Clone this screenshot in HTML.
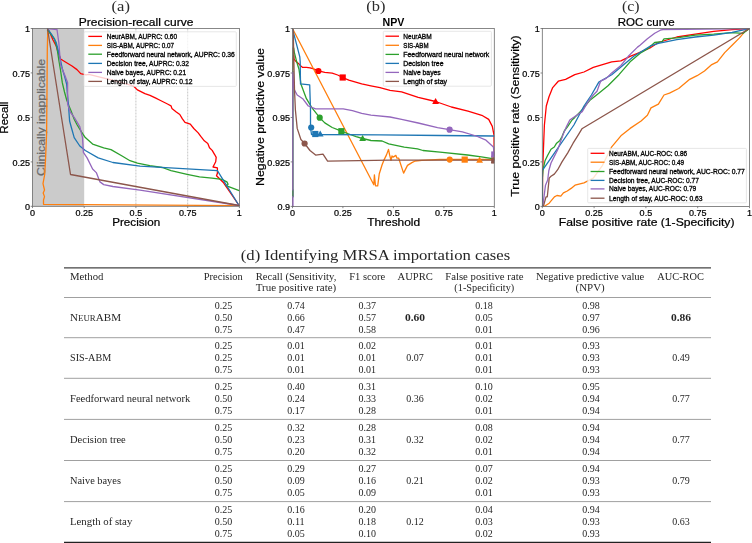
<!DOCTYPE html><html><head><meta charset="utf-8"><style>html,body{margin:0;padding:0;background:#fff;overflow:hidden}svg{display:block;filter:blur(0.35px)}</style></head><body><svg width="752" height="543" viewBox="0 0 752 543"><defs><clipPath id="ca"><rect x="32.5" y="28.5" width="206.9" height="177.8"/></clipPath><clipPath id="cb"><rect x="292.5" y="28.5" width="201.8" height="177.9"/></clipPath><clipPath id="cc"><rect x="542.3" y="28.5" width="207.2" height="177.9"/></clipPath></defs>
<rect x="32.5" y="28.5" width="51.7" height="177.8" fill="#cbcbcb"/>
<line x1="135.9" y1="28.5" x2="135.9" y2="206.3" stroke="#b8b8b8" stroke-width="0.8" stroke-dasharray="2,1"/>
<line x1="187.7" y1="28.5" x2="187.7" y2="206.3" stroke="#b8b8b8" stroke-width="0.8" stroke-dasharray="2,1"/>
<text transform="translate(44.7,117.4) rotate(-90)" x="0" y="0" font-size="10.9" text-anchor="middle" fill="#6a6a6a" font-family='"Liberation Sans", sans-serif' font-weight="normal" textLength="117.0" lengthAdjust="spacingAndGlyphs" stroke="#6a6a6a" stroke-width="0.22">Clinically inapplicable</text>
<g clip-path="url(#ca)">
<polyline points="47.5,28.5 50.0,33.0 53.0,40.0 56.2,46.0 58.0,52.0 60.6,59.0 65.0,61.7 72.0,66.0 77.0,69.6 80.7,73.6 86.0,74.8 88.8,74.4 102.0,77.7 123.9,83.1 133.7,86.2 137.4,89.9 144.9,93.7 150.0,95.3 155.3,97.9 160.5,100.5 167.5,104.0 171.0,105.8 171.9,108.4 176.3,111.9 179.8,114.5 182.4,118.9 185.0,122.4 190.3,124.2 193.8,128.5 198.2,132.9 200.8,136.4 204.3,140.8 207.8,143.4 209.5,147.8 212.2,150.4 214.8,154.8 216.2,157.4 215.7,161.8 213.9,165.3 213.0,167.0 217.4,167.9 217.4,173.2 216.5,175.8 223.6,182.8 239.1,205.5" fill="none" stroke="#ff0000" stroke-width="1.3" stroke-linejoin="round" stroke-linecap="round" />
<polyline points="47.8,28.8 47.3,50.0 47.0,90.0 46.6,134.0 45.5,160.0 44.7,174.5 43.0,183.7 44.5,190.0 43.2,193.0 44.5,196.6 43.5,200.0 43.5,204.3 239.0,205.6" fill="none" stroke="#ff7f0e" stroke-width="1.3" stroke-linejoin="round" stroke-linecap="round" />
<polyline points="47.5,30.0 50.0,33.0 54.5,39.0 57.0,48.0 58.8,60.0 60.5,70.0 62.3,82.7 64.5,92.0 66.7,100.0 69.0,106.0 71.0,110.7 74.2,119.2 77.2,125.0 81.6,132.1 85.3,137.6 92.6,144.1 103.7,147.8 111.0,149.6 122.1,156.0 130.0,160.7 137.4,163.2 149.8,165.7 162.3,167.5 171.0,170.7 187.1,174.4 199.5,176.9 212.0,178.1 221.9,179.4 226.9,181.9 228.1,184.3 226.0,185.6 239.2,190.6" fill="none" stroke="#2ca02c" stroke-width="1.3" stroke-linejoin="round" stroke-linecap="round" />
<polyline points="47.5,28.5 52.0,35.0 56.0,42.0 58.0,49.5 60.0,58.0 62.3,68.7 64.5,76.0 66.7,84.4 67.5,95.0 68.5,105.4 69.6,121.0 71.5,128.0 74.2,137.6 79.8,146.0 85.3,150.5 98.2,157.9 112.9,162.5 140.0,166.2 217.4,170.6 239.0,205.5" fill="none" stroke="#1f77b4" stroke-width="1.3" stroke-linejoin="round" stroke-linecap="round" />
<polyline points="47.5,28.5 57.0,29.5 58.8,42.5 60.6,65.0 65.0,75.7 67.6,82.7 67.6,103.7 70.2,112.0 74.2,117.4 79.8,126.6 82.5,137.6 83.4,152.4 87.1,157.9 92.6,169.0 96.3,172.6 100.0,181.9 103.7,184.6 112.9,186.5 140.0,190.2 239.0,205.5" fill="none" stroke="#9467bd" stroke-width="1.3" stroke-linejoin="round" stroke-linecap="round" />
<polyline points="47.5,28.5 70.5,174.5 239.0,205.5" fill="none" stroke="#8c564b" stroke-width="1.3" stroke-linejoin="round" stroke-linecap="round" />
</g>
<rect x="32.5" y="28.5" width="206.9" height="177.8" fill="none" stroke="#6a6a6a" stroke-width="0.8"/>
<rect x="84" y="31.8" width="152.3" height="54.60000000000001" fill="#ffffff" fill-opacity="0.8" stroke="#dcdcdc" stroke-width="0.7" rx="1"/>
<line x1="88.3" y1="36.4" x2="102" y2="36.4" stroke="#ff0000" stroke-width="1.3"/>
<text x="106.8" y="38.8" font-size="6.8" text-anchor="start" fill="#000" font-family='"Liberation Sans", sans-serif' font-weight="normal" textLength="70.28" lengthAdjust="spacingAndGlyphs" stroke="#000" stroke-width="0.3">NeurABM, AUPRC: 0.60</text>
<line x1="88.3" y1="45.4" x2="102" y2="45.4" stroke="#ff7f0e" stroke-width="1.3"/>
<text x="106.8" y="47.8" font-size="6.8" text-anchor="start" fill="#000" font-family='"Liberation Sans", sans-serif' font-weight="normal" textLength="67.2" lengthAdjust="spacingAndGlyphs" stroke="#000" stroke-width="0.3">SIS-ABM, AUPRC: 0.07</text>
<line x1="88.3" y1="54.2" x2="102" y2="54.2" stroke="#2ca02c" stroke-width="1.3"/>
<text x="106.8" y="56.6" font-size="6.8" text-anchor="start" fill="#000" font-family='"Liberation Sans", sans-serif' font-weight="normal" textLength="127.99" lengthAdjust="spacingAndGlyphs" stroke="#000" stroke-width="0.3">Feedforward neural network, AUPRC: 0.36</text>
<line x1="88.3" y1="63.4" x2="102" y2="63.4" stroke="#1f77b4" stroke-width="1.3"/>
<text x="106.8" y="65.8" font-size="6.8" text-anchor="start" fill="#000" font-family='"Liberation Sans", sans-serif' font-weight="normal" textLength="82.15" lengthAdjust="spacingAndGlyphs" stroke="#000" stroke-width="0.3">Decision tree, AUPRC: 0.32</text>
<line x1="88.3" y1="72.4" x2="102" y2="72.4" stroke="#9467bd" stroke-width="1.3"/>
<text x="106.8" y="74.80000000000001" font-size="6.8" text-anchor="start" fill="#000" font-family='"Liberation Sans", sans-serif' font-weight="normal" textLength="79.42" lengthAdjust="spacingAndGlyphs" stroke="#000" stroke-width="0.3">Naive bayes, AUPRC: 0.21</text>
<line x1="88.3" y1="81.4" x2="102" y2="81.4" stroke="#8c564b" stroke-width="1.3"/>
<text x="106.8" y="83.80000000000001" font-size="6.8" text-anchor="start" fill="#000" font-family='"Liberation Sans", sans-serif' font-weight="normal" textLength="85.68" lengthAdjust="spacingAndGlyphs" stroke="#000" stroke-width="0.3">Length of stay, AUPRC: 0.12</text>
<line x1="32.5" y1="206.3" x2="32.5" y2="208.10000000000002" stroke="#6a6a6a" stroke-width="0.8"/>
<text x="32.5" y="215.9" font-size="8.6" text-anchor="middle" fill="#000" font-family='"Liberation Sans", sans-serif' font-weight="normal" textLength="5.03" lengthAdjust="spacingAndGlyphs" stroke="#000" stroke-width="0.22">0</text>
<line x1="30.7" y1="206.3" x2="32.5" y2="206.3" stroke="#6a6a6a" stroke-width="0.8"/>
<text x="30.0" y="209.9" font-size="8.6" text-anchor="end" fill="#000" font-family='"Liberation Sans", sans-serif' font-weight="normal" textLength="5.03" lengthAdjust="spacingAndGlyphs" stroke="#000" stroke-width="0.22">0</text>
<line x1="84.2" y1="206.3" x2="84.2" y2="208.10000000000002" stroke="#6a6a6a" stroke-width="0.8"/>
<text x="84.2" y="215.9" font-size="8.6" text-anchor="middle" fill="#000" font-family='"Liberation Sans", sans-serif' font-weight="normal" textLength="17.59" lengthAdjust="spacingAndGlyphs" stroke="#000" stroke-width="0.22">0.25</text>
<line x1="30.7" y1="161.9" x2="32.5" y2="161.9" stroke="#6a6a6a" stroke-width="0.8"/>
<text x="30.0" y="165.5" font-size="8.6" text-anchor="end" fill="#000" font-family='"Liberation Sans", sans-serif' font-weight="normal" textLength="17.59" lengthAdjust="spacingAndGlyphs" stroke="#000" stroke-width="0.22">0.25</text>
<line x1="135.9" y1="206.3" x2="135.9" y2="208.10000000000002" stroke="#6a6a6a" stroke-width="0.8"/>
<text x="135.9" y="215.9" font-size="8.6" text-anchor="middle" fill="#000" font-family='"Liberation Sans", sans-serif' font-weight="normal" textLength="12.56" lengthAdjust="spacingAndGlyphs" stroke="#000" stroke-width="0.22">0.5</text>
<line x1="30.7" y1="117.4" x2="32.5" y2="117.4" stroke="#6a6a6a" stroke-width="0.8"/>
<text x="30.0" y="121.0" font-size="8.6" text-anchor="end" fill="#000" font-family='"Liberation Sans", sans-serif' font-weight="normal" textLength="12.56" lengthAdjust="spacingAndGlyphs" stroke="#000" stroke-width="0.22">0.5</text>
<line x1="187.7" y1="206.3" x2="187.7" y2="208.10000000000002" stroke="#6a6a6a" stroke-width="0.8"/>
<text x="187.7" y="215.9" font-size="8.6" text-anchor="middle" fill="#000" font-family='"Liberation Sans", sans-serif' font-weight="normal" textLength="17.59" lengthAdjust="spacingAndGlyphs" stroke="#000" stroke-width="0.22">0.75</text>
<line x1="30.7" y1="72.9" x2="32.5" y2="72.9" stroke="#6a6a6a" stroke-width="0.8"/>
<text x="30.0" y="76.5" font-size="8.6" text-anchor="end" fill="#000" font-family='"Liberation Sans", sans-serif' font-weight="normal" textLength="17.59" lengthAdjust="spacingAndGlyphs" stroke="#000" stroke-width="0.22">0.75</text>
<line x1="239.4" y1="206.3" x2="239.4" y2="208.10000000000002" stroke="#6a6a6a" stroke-width="0.8"/>
<text x="239.4" y="215.9" font-size="8.6" text-anchor="middle" fill="#000" font-family='"Liberation Sans", sans-serif' font-weight="normal" textLength="5.03" lengthAdjust="spacingAndGlyphs" stroke="#000" stroke-width="0.22">1</text>
<line x1="30.7" y1="28.5" x2="32.5" y2="28.5" stroke="#6a6a6a" stroke-width="0.8"/>
<text x="30.0" y="32.1" font-size="8.6" text-anchor="end" fill="#000" font-family='"Liberation Sans", sans-serif' font-weight="normal" textLength="5.03" lengthAdjust="spacingAndGlyphs" stroke="#000" stroke-width="0.22">1</text>
<text x="136.2" y="226.2" font-size="10.75" text-anchor="middle" fill="#000" font-family='"Liberation Sans", sans-serif' font-weight="normal" textLength="47.97" lengthAdjust="spacingAndGlyphs" stroke="#000" stroke-width="0.22">Precision</text>
<text transform="translate(8.2,117.6) rotate(-90)" x="0" y="0" font-size="10.75" text-anchor="middle" fill="#000" font-family='"Liberation Sans", sans-serif' font-weight="normal" textLength="32.07" lengthAdjust="spacingAndGlyphs" stroke="#000" stroke-width="0.22">Recall</text>
<text x="136.15" y="25.9" font-size="10.75" text-anchor="middle" fill="#000" font-family='"Liberation Sans", sans-serif' font-weight="normal" textLength="114.65" lengthAdjust="spacingAndGlyphs" stroke="#000" stroke-width="0.22">Precision-recall curve</text>
<text x="120.8" y="11.3" font-size="14.4" text-anchor="middle" fill="#2a2a2a" font-family='"Liberation Serif", serif' font-weight="normal" textLength="18.4" lengthAdjust="spacingAndGlyphs" >(a)</text>
<g clip-path="url(#cb)">
<polyline points="292.8,70.0 293.2,58.0 293.7,55.4 294.0,59.1 296.3,61.8 299.0,64.1 300.9,66.0 302.7,67.4 306.4,67.4 310.1,67.8 312.9,68.7 318.4,70.8 324.8,72.4 332.2,73.2 337.7,75.0 342.7,77.5 348.8,80.2 361.7,83.9 370.9,85.8 380.0,87.6 390.0,90.4 401.6,91.8 418.2,97.3 435.6,101.5 451.4,107.0 468.0,111.1 481.8,115.3 488.7,119.4 492.3,126.4 494.0,135.0 494.2,160.0" fill="none" stroke="#ff0000" stroke-width="1.3" stroke-linejoin="round" stroke-linecap="round" />
<polyline points="292.6,28.7 373.8,184.7 374.4,174.8 375.5,185.8 377.7,185.8 379.3,173.7 382.1,164.8 383.8,160.4 386.5,154.9 388.5,149.4 389.6,154.9 391.0,160.4 392.0,156.0 393.1,157.1 395.9,155.4 397.0,158.2 398.7,158.2 403.6,173.1 407.5,165.4 411.9,162.6 415.2,161.0 421.9,160.4 440.0,159.5 494.3,159.5" fill="none" stroke="#ff7f0e" stroke-width="1.3" stroke-linejoin="round" stroke-linecap="round" />
<polyline points="292.8,197.0 292.8,48.0 293.7,48.0 294.4,52.6 296.7,61.8 299.0,69.2 300.9,83.9 306.4,98.7 312.0,107.9 319.7,117.7 324.8,122.9 332.2,127.5 341.4,131.2 348.8,134.0 356.1,136.7 362.6,138.5 371.0,140.5 382.1,141.0 388.7,143.8 404.2,147.2 417.5,148.8 423.0,150.5 440.0,152.1 467.6,155.0 481.4,156.8 492.4,158.6 494.3,159.0" fill="none" stroke="#2ca02c" stroke-width="1.3" stroke-linejoin="round" stroke-linecap="round" />
<polyline points="292.6,29.1 296.3,43.4 299.8,56.8 300.2,61.8 300.5,83.9 309.7,84.8 310.5,110.0 310.5,127.5 311.5,134.5 380.0,134.8 440.0,135.5 494.3,136.0" fill="none" stroke="#1f77b4" stroke-width="1.3" stroke-linejoin="round" stroke-linecap="round" />
<polyline points="292.7,206.4 292.7,72.0 293.3,80.0 294.5,90.0 297.2,95.0 302.7,98.7 308.3,106.0 315.6,108.8 334.0,108.8 343.2,108.8 352.4,110.6 361.7,113.4 370.9,115.2 390.0,117.0 401.6,119.4 418.2,123.0 437.5,127.7 449.4,129.7 462.4,131.9 476.2,136.0 486.0,140.2 493.4,147.0 494.3,155.0" fill="none" stroke="#9467bd" stroke-width="1.3" stroke-linejoin="round" stroke-linecap="round" />
<polyline points="293.2,29.6 294.5,90.0 295.4,110.0 297.2,128.4 300.9,139.5 304.6,143.5 310.0,150.5 315.6,155.1 323.0,154.2 327.6,161.2 390.0,160.2 494.3,160.2" fill="none" stroke="#8c564b" stroke-width="1.3" stroke-linejoin="round" stroke-linecap="round" />
<circle cx="318.4" cy="71" r="3.1" fill="#ff0000"/>
<rect x="339.59999999999997" y="74.4" width="6.2" height="6.2" fill="#ff0000"/>
<polygon points="435.6,98.1 439.0,104.05 432.20000000000005,104.05" fill="#ff0000"/>
<circle cx="449.7" cy="159.6" r="3.1" fill="#ff7f0e"/>
<rect x="461.59999999999997" y="156.5" width="6.2" height="6.2" fill="#ff7f0e"/>
<polygon points="479.6,156.79999999999998 483.0,162.75 476.20000000000005,162.75" fill="#ff7f0e"/>
<circle cx="319.7" cy="117.7" r="3.1" fill="#2ca02c"/>
<rect x="338.29999999999995" y="128.1" width="6.2" height="6.2" fill="#2ca02c"/>
<polygon points="362.6,135.1 366.0,141.05 359.20000000000005,141.05" fill="#2ca02c"/>
<circle cx="311.2" cy="127.5" r="3.1" fill="#1f77b4"/>
<rect x="312.2" y="130.9" width="6.2" height="6.2" fill="#1f77b4"/>
<polygon points="320.2,130.6 323.59999999999997,136.55 316.8,136.55" fill="#1f77b4"/>
<circle cx="449.6" cy="129.7" r="3.1" fill="#9467bd"/>
<rect x="491.2" y="151.4" width="6.2" height="6.2" fill="#9467bd"/>
<polygon points="494.3,151.1 497.7,157.05 490.90000000000003,157.05" fill="#9467bd"/>
<circle cx="304.6" cy="143.5" r="3.1" fill="#8c564b"/>
<rect x="491.2" y="157.4" width="6.2" height="6.2" fill="#8c564b"/>
<polygon points="494.3,157.1 497.7,163.05 490.90000000000003,163.05" fill="#8c564b"/>
</g>
<rect x="292.5" y="28.5" width="201.8" height="177.9" fill="none" stroke="#6a6a6a" stroke-width="0.8"/>
<line x1="292.7" y1="72" x2="292.7" y2="206" stroke="#9467bd" stroke-width="1.1" opacity="0.75"/>
<line x1="292.7" y1="190.5" x2="292.7" y2="196" stroke="#2ca02c" stroke-width="1.1" opacity="0.6"/>
<rect x="383.3" y="31.3" width="108.09999999999997" height="54.900000000000006" fill="#ffffff" fill-opacity="0.8" stroke="#dcdcdc" stroke-width="0.7" rx="1"/>
<line x1="385.5" y1="36.2" x2="399" y2="36.2" stroke="#ff0000" stroke-width="1.3"/>
<text x="403.3" y="38.6" font-size="6.8" text-anchor="start" fill="#000" font-family='"Liberation Sans", sans-serif' font-weight="normal" textLength="28.31" lengthAdjust="spacingAndGlyphs" stroke="#000" stroke-width="0.3">NeurABM</text>
<line x1="385.5" y1="45.3" x2="399" y2="45.3" stroke="#ff7f0e" stroke-width="1.3"/>
<text x="403.3" y="47.699999999999996" font-size="6.8" text-anchor="start" fill="#000" font-family='"Liberation Sans", sans-serif' font-weight="normal" textLength="25.23" lengthAdjust="spacingAndGlyphs" stroke="#000" stroke-width="0.3">SIS-ABM</text>
<line x1="385.5" y1="54.4" x2="399" y2="54.4" stroke="#2ca02c" stroke-width="1.3"/>
<text x="403.3" y="56.8" font-size="6.8" text-anchor="start" fill="#000" font-family='"Liberation Sans", sans-serif' font-weight="normal" textLength="86.02" lengthAdjust="spacingAndGlyphs" stroke="#000" stroke-width="0.3">Feedforward neural network</text>
<line x1="385.5" y1="63.4" x2="399" y2="63.4" stroke="#1f77b4" stroke-width="1.3"/>
<text x="403.3" y="65.8" font-size="6.8" text-anchor="start" fill="#000" font-family='"Liberation Sans", sans-serif' font-weight="normal" textLength="40.18" lengthAdjust="spacingAndGlyphs" stroke="#000" stroke-width="0.3">Decision tree</text>
<line x1="385.5" y1="72.4" x2="399" y2="72.4" stroke="#9467bd" stroke-width="1.3"/>
<text x="403.3" y="74.80000000000001" font-size="6.8" text-anchor="start" fill="#000" font-family='"Liberation Sans", sans-serif' font-weight="normal" textLength="37.45" lengthAdjust="spacingAndGlyphs" stroke="#000" stroke-width="0.3">Naive bayes</text>
<line x1="385.5" y1="81.4" x2="399" y2="81.4" stroke="#8c564b" stroke-width="1.3"/>
<text x="403.3" y="83.80000000000001" font-size="6.8" text-anchor="start" fill="#000" font-family='"Liberation Sans", sans-serif' font-weight="normal" textLength="43.72" lengthAdjust="spacingAndGlyphs" stroke="#000" stroke-width="0.3">Length of stay</text>
<line x1="292.5" y1="206.4" x2="292.5" y2="208.20000000000002" stroke="#6a6a6a" stroke-width="0.8"/>
<text x="292.5" y="215.9" font-size="8.6" text-anchor="middle" fill="#000" font-family='"Liberation Sans", sans-serif' font-weight="normal" textLength="5.03" lengthAdjust="spacingAndGlyphs" stroke="#000" stroke-width="0.22">0</text>
<line x1="342.9" y1="206.4" x2="342.9" y2="208.20000000000002" stroke="#6a6a6a" stroke-width="0.8"/>
<text x="342.9" y="215.9" font-size="8.6" text-anchor="middle" fill="#000" font-family='"Liberation Sans", sans-serif' font-weight="normal" textLength="17.59" lengthAdjust="spacingAndGlyphs" stroke="#000" stroke-width="0.22">0.25</text>
<line x1="393.4" y1="206.4" x2="393.4" y2="208.20000000000002" stroke="#6a6a6a" stroke-width="0.8"/>
<text x="393.4" y="215.9" font-size="8.6" text-anchor="middle" fill="#000" font-family='"Liberation Sans", sans-serif' font-weight="normal" textLength="12.56" lengthAdjust="spacingAndGlyphs" stroke="#000" stroke-width="0.22">0.5</text>
<line x1="443.9" y1="206.4" x2="443.9" y2="208.20000000000002" stroke="#6a6a6a" stroke-width="0.8"/>
<text x="443.9" y="215.9" font-size="8.6" text-anchor="middle" fill="#000" font-family='"Liberation Sans", sans-serif' font-weight="normal" textLength="17.59" lengthAdjust="spacingAndGlyphs" stroke="#000" stroke-width="0.22">0.75</text>
<line x1="494.3" y1="206.4" x2="494.3" y2="208.20000000000002" stroke="#6a6a6a" stroke-width="0.8"/>
<text x="494.3" y="215.9" font-size="8.6" text-anchor="middle" fill="#000" font-family='"Liberation Sans", sans-serif' font-weight="normal" textLength="5.03" lengthAdjust="spacingAndGlyphs" stroke="#000" stroke-width="0.22">1</text>
<line x1="290.7" y1="206.4" x2="292.5" y2="206.4" stroke="#6a6a6a" stroke-width="0.8"/>
<text x="290.0" y="210.0" font-size="8.6" text-anchor="end" fill="#000" font-family='"Liberation Sans", sans-serif' font-weight="normal" textLength="12.56" lengthAdjust="spacingAndGlyphs" stroke="#000" stroke-width="0.22">0.9</text>
<line x1="290.7" y1="161.9" x2="292.5" y2="161.9" stroke="#6a6a6a" stroke-width="0.8"/>
<text x="290.0" y="165.5" font-size="8.6" text-anchor="end" fill="#000" font-family='"Liberation Sans", sans-serif' font-weight="normal" textLength="22.62" lengthAdjust="spacingAndGlyphs" stroke="#000" stroke-width="0.22">0.925</text>
<line x1="290.7" y1="117.5" x2="292.5" y2="117.5" stroke="#6a6a6a" stroke-width="0.8"/>
<text x="290.0" y="121.0" font-size="8.6" text-anchor="end" fill="#000" font-family='"Liberation Sans", sans-serif' font-weight="normal" textLength="17.59" lengthAdjust="spacingAndGlyphs" stroke="#000" stroke-width="0.22">0.95</text>
<line x1="290.7" y1="73.0" x2="292.5" y2="73.0" stroke="#6a6a6a" stroke-width="0.8"/>
<text x="290.0" y="76.6" font-size="8.6" text-anchor="end" fill="#000" font-family='"Liberation Sans", sans-serif' font-weight="normal" textLength="22.62" lengthAdjust="spacingAndGlyphs" stroke="#000" stroke-width="0.22">0.975</text>
<line x1="290.7" y1="28.5" x2="292.5" y2="28.5" stroke="#6a6a6a" stroke-width="0.8"/>
<text x="290.0" y="32.1" font-size="8.6" text-anchor="end" fill="#000" font-family='"Liberation Sans", sans-serif' font-weight="normal" textLength="5.03" lengthAdjust="spacingAndGlyphs" stroke="#000" stroke-width="0.22">1</text>
<text x="393.65" y="226.2" font-size="10.75" text-anchor="middle" fill="#000" font-family='"Liberation Sans", sans-serif' font-weight="normal" textLength="52.98" lengthAdjust="spacingAndGlyphs" stroke="#000" stroke-width="0.22">Threshold</text>
<text transform="translate(263.6,117) rotate(-90)" x="0" y="0" font-size="10.75" text-anchor="middle" fill="#000" font-family='"Liberation Sans", sans-serif' font-weight="normal" textLength="137.96" lengthAdjust="spacingAndGlyphs" stroke="#000" stroke-width="0.22">Negative predictive value</text>
<text x="393.45" y="25.9" font-size="10.75" text-anchor="middle" fill="#000" font-family='"Liberation Sans", sans-serif' font-weight="bold" textLength="21.88" lengthAdjust="spacingAndGlyphs" >NPV</text>
<text x="375.9" y="11.3" font-size="14.4" text-anchor="middle" fill="#2a2a2a" font-family='"Liberation Serif", serif' font-weight="normal" textLength="19.21" lengthAdjust="spacingAndGlyphs" >(b)</text>
<g clip-path="url(#cc)">
<polyline points="542.4,206.4 542.6,175.0 542.7,169.7 543.2,155.0 543.8,140.0 544.4,125.0 546.3,106.0 549.0,96.8 552.7,87.6 558.3,81.2 565.6,79.3 574.8,74.7 584.0,72.0 593.3,67.4 602.5,64.6 611.7,61.8 620.9,60.9 630.1,56.3 639.3,52.6 650.0,48.0 658.4,42.5 676.8,37.0 695.3,34.2 713.7,31.4 732.1,29.6 749.5,28.5" fill="none" stroke="#ff0000" stroke-width="1.3" stroke-linejoin="round" stroke-linecap="round" />
<polyline points="542.5,206.4 545.3,205.8 549.2,203.2 554.4,196.8 557.0,195.5 560.8,196.1 563.4,192.9 567.3,191.0 571.1,188.4 575.0,185.2 584.0,182.8 593.3,178.2 602.5,165.3 611.7,146.8 620.9,135.8 630.1,128.4 641.1,121.0 647.4,115.3 651.0,107.9 658.4,104.2 664.0,95.0 669.5,93.2 678.7,88.5 689.7,79.3 697.1,75.7 704.5,71.0 711.8,64.6 717.4,61.8 724.7,52.6 732.1,45.3 739.5,37.9 745.0,31.4 749.5,28.5" fill="none" stroke="#ff7f0e" stroke-width="1.3" stroke-linejoin="round" stroke-linecap="round" />
<polyline points="542.4,206.4 542.4,178.0 543.0,170.0 545.0,160.8 547.7,155.3 551.0,149.2 554.3,147.0 556.6,143.2 559.9,140.4 562.0,136.6 564.3,131.0 567.6,126.6 572.0,120.0 574.8,117.4 582.2,109.7 589.6,100.5 598.8,93.2 608.0,85.8 619.0,74.7 630.1,61.8 641.1,52.6 647.4,49.0 654.7,42.5 662.1,41.6 664.0,38.8 676.8,37.9 695.3,35.1 713.7,34.2 732.1,32.7 743.1,33.3 746.8,30.5 749.5,28.5" fill="none" stroke="#2ca02c" stroke-width="1.3" stroke-linejoin="round" stroke-linecap="round" />
<polyline points="542.4,206.4 542.4,170.3 573.9,125.0 584.0,106.0 591.4,95.0 598.8,82.1 611.7,74.7 622.7,65.5 633.8,56.3 650.0,46.2 658.4,43.4 676.8,39.7 695.3,37.0 713.7,35.1 732.1,32.4 749.5,28.5" fill="none" stroke="#1f77b4" stroke-width="1.3" stroke-linejoin="round" stroke-linecap="round" />
<polyline points="542.7,206.4 544.0,196.8 545.5,185.2 547.7,180.0 548.8,170.8 551.0,163.0 554.3,156.4 557.7,149.8 560.4,142.1 563.2,134.3 566.5,126.6 569.8,120.0 571.2,119.0 576.7,115.3 582.2,111.6 587.7,102.4 593.3,95.0 597.0,91.3 600.6,81.2 606.2,78.4 611.7,72.9 620.9,65.5 628.3,56.3 637.5,47.1 640.0,45.3 647.4,38.8 654.7,33.3 660.3,30.2 663.0,29.5 749.5,28.7" fill="none" stroke="#9467bd" stroke-width="1.3" stroke-linejoin="round" stroke-linecap="round" />
<polyline points="542.5,206.4 543.4,206.4 546.0,196.8 547.3,196.8 549.2,178.1 551.0,176.3 554.3,174.1 557.7,169.7 562.0,161.9 567.6,153.1 573.1,143.2 578.6,134.3 581.9,128.8 749.5,28.5" fill="none" stroke="#8c564b" stroke-width="1.3" stroke-linejoin="round" stroke-linecap="round" />
</g>
<rect x="542.3" y="28.5" width="207.2" height="177.9" fill="none" stroke="#6a6a6a" stroke-width="0.8"/>
<rect x="587.7" y="148.4" width="158.69999999999993" height="54.400000000000006" fill="#ffffff" fill-opacity="0.8" stroke="#dcdcdc" stroke-width="0.7" rx="1"/>
<line x1="590.6" y1="153.3" x2="604.5" y2="153.3" stroke="#ff0000" stroke-width="1.3"/>
<text x="609" y="155.70000000000002" font-size="6.8" text-anchor="start" fill="#000" font-family='"Liberation Sans", sans-serif' font-weight="normal" textLength="78.16" lengthAdjust="spacingAndGlyphs" stroke="#000" stroke-width="0.3">NeurABM, AUC-ROC: 0.86</text>
<line x1="590.6" y1="162.2" x2="604.5" y2="162.2" stroke="#ff7f0e" stroke-width="1.3"/>
<text x="609" y="164.6" font-size="6.8" text-anchor="start" fill="#000" font-family='"Liberation Sans", sans-serif' font-weight="normal" textLength="75.08" lengthAdjust="spacingAndGlyphs" stroke="#000" stroke-width="0.3">SIS-ABM, AUC-ROC: 0.49</text>
<line x1="590.6" y1="171.5" x2="604.5" y2="171.5" stroke="#2ca02c" stroke-width="1.3"/>
<text x="609" y="173.9" font-size="6.8" text-anchor="start" fill="#000" font-family='"Liberation Sans", sans-serif' font-weight="normal" textLength="135.87" lengthAdjust="spacingAndGlyphs" stroke="#000" stroke-width="0.3">Feedforward neural network, AUC-ROC: 0.77</text>
<line x1="590.6" y1="180.4" x2="604.5" y2="180.4" stroke="#1f77b4" stroke-width="1.3"/>
<text x="609" y="182.8" font-size="6.8" text-anchor="start" fill="#000" font-family='"Liberation Sans", sans-serif' font-weight="normal" textLength="90.03" lengthAdjust="spacingAndGlyphs" stroke="#000" stroke-width="0.3">Decision tree, AUC-ROC: 0.77</text>
<line x1="590.6" y1="188.9" x2="604.5" y2="188.9" stroke="#9467bd" stroke-width="1.3"/>
<text x="609" y="191.3" font-size="6.8" text-anchor="start" fill="#000" font-family='"Liberation Sans", sans-serif' font-weight="normal" textLength="87.3" lengthAdjust="spacingAndGlyphs" stroke="#000" stroke-width="0.3">Naive bayes, AUC-ROC: 0.79</text>
<line x1="590.6" y1="198.2" x2="604.5" y2="198.2" stroke="#8c564b" stroke-width="1.3"/>
<text x="609" y="200.6" font-size="6.8" text-anchor="start" fill="#000" font-family='"Liberation Sans", sans-serif' font-weight="normal" textLength="93.57" lengthAdjust="spacingAndGlyphs" stroke="#000" stroke-width="0.3">Length of stay, AUC-ROC: 0.63</text>
<line x1="542.3" y1="206.4" x2="542.3" y2="208.20000000000002" stroke="#6a6a6a" stroke-width="0.8"/>
<text x="542.3" y="215.9" font-size="8.6" text-anchor="middle" fill="#000" font-family='"Liberation Sans", sans-serif' font-weight="normal" textLength="5.03" lengthAdjust="spacingAndGlyphs" stroke="#000" stroke-width="0.22">0</text>
<line x1="540.5" y1="206.4" x2="542.3" y2="206.4" stroke="#6a6a6a" stroke-width="0.8"/>
<text x="539.8" y="210.0" font-size="8.6" text-anchor="end" fill="#000" font-family='"Liberation Sans", sans-serif' font-weight="normal" textLength="5.03" lengthAdjust="spacingAndGlyphs" stroke="#000" stroke-width="0.22">0</text>
<line x1="594.1" y1="206.4" x2="594.1" y2="208.20000000000002" stroke="#6a6a6a" stroke-width="0.8"/>
<text x="594.1" y="215.9" font-size="8.6" text-anchor="middle" fill="#000" font-family='"Liberation Sans", sans-serif' font-weight="normal" textLength="17.59" lengthAdjust="spacingAndGlyphs" stroke="#000" stroke-width="0.22">0.25</text>
<line x1="540.5" y1="161.9" x2="542.3" y2="161.9" stroke="#6a6a6a" stroke-width="0.8"/>
<text x="539.8" y="165.5" font-size="8.6" text-anchor="end" fill="#000" font-family='"Liberation Sans", sans-serif' font-weight="normal" textLength="17.59" lengthAdjust="spacingAndGlyphs" stroke="#000" stroke-width="0.22">0.25</text>
<line x1="645.9" y1="206.4" x2="645.9" y2="208.20000000000002" stroke="#6a6a6a" stroke-width="0.8"/>
<text x="645.9" y="215.9" font-size="8.6" text-anchor="middle" fill="#000" font-family='"Liberation Sans", sans-serif' font-weight="normal" textLength="12.56" lengthAdjust="spacingAndGlyphs" stroke="#000" stroke-width="0.22">0.5</text>
<line x1="540.5" y1="117.5" x2="542.3" y2="117.5" stroke="#6a6a6a" stroke-width="0.8"/>
<text x="539.8" y="121.0" font-size="8.6" text-anchor="end" fill="#000" font-family='"Liberation Sans", sans-serif' font-weight="normal" textLength="12.56" lengthAdjust="spacingAndGlyphs" stroke="#000" stroke-width="0.22">0.5</text>
<line x1="697.7" y1="206.4" x2="697.7" y2="208.20000000000002" stroke="#6a6a6a" stroke-width="0.8"/>
<text x="697.7" y="215.9" font-size="8.6" text-anchor="middle" fill="#000" font-family='"Liberation Sans", sans-serif' font-weight="normal" textLength="17.59" lengthAdjust="spacingAndGlyphs" stroke="#000" stroke-width="0.22">0.75</text>
<line x1="540.5" y1="73.0" x2="542.3" y2="73.0" stroke="#6a6a6a" stroke-width="0.8"/>
<text x="539.8" y="76.6" font-size="8.6" text-anchor="end" fill="#000" font-family='"Liberation Sans", sans-serif' font-weight="normal" textLength="17.59" lengthAdjust="spacingAndGlyphs" stroke="#000" stroke-width="0.22">0.75</text>
<line x1="749.5" y1="206.4" x2="749.5" y2="208.20000000000002" stroke="#6a6a6a" stroke-width="0.8"/>
<text x="749.5" y="215.9" font-size="8.6" text-anchor="middle" fill="#000" font-family='"Liberation Sans", sans-serif' font-weight="normal" textLength="5.03" lengthAdjust="spacingAndGlyphs" stroke="#000" stroke-width="0.22">1</text>
<line x1="540.5" y1="28.5" x2="542.3" y2="28.5" stroke="#6a6a6a" stroke-width="0.8"/>
<text x="539.8" y="32.1" font-size="8.6" text-anchor="end" fill="#000" font-family='"Liberation Sans", sans-serif' font-weight="normal" textLength="5.03" lengthAdjust="spacingAndGlyphs" stroke="#000" stroke-width="0.22">1</text>
<text x="646.6" y="226.2" font-size="10.75" text-anchor="middle" fill="#000" font-family='"Liberation Sans", sans-serif' font-weight="normal" textLength="175.75" lengthAdjust="spacingAndGlyphs" stroke="#000" stroke-width="0.22">False positive rate (1-Specificity)</text>
<text transform="translate(518.8,116.1) rotate(-90)" x="0" y="0" font-size="10.75" text-anchor="middle" fill="#000" font-family='"Liberation Sans", sans-serif' font-weight="normal" textLength="161.44" lengthAdjust="spacingAndGlyphs" stroke="#000" stroke-width="0.22">True positive rate (Sensitivity)</text>
<text x="646.2" y="25.9" font-size="10.75" text-anchor="middle" fill="#000" font-family='"Liberation Sans", sans-serif' font-weight="normal" textLength="56.98" lengthAdjust="spacingAndGlyphs" stroke="#000" stroke-width="0.22">ROC curve</text>
<text x="630.75" y="11.3" font-size="14.4" text-anchor="middle" fill="#2a2a2a" font-family='"Liberation Serif", serif' font-weight="normal" textLength="17.6" lengthAdjust="spacingAndGlyphs" >(c)</text>
<text x="375.5" y="260.4" font-size="15.2" text-anchor="middle" fill="#262626" font-family='"Liberation Serif", serif' font-weight="normal" textLength="269.4" lengthAdjust="spacingAndGlyphs" >(d) Identifying MRSA importation cases</text>
<line x1="64" y1="267.8" x2="711" y2="267.8" stroke="#444" stroke-width="1.2"/>
<text x="70" y="279.5" font-size="9.85" text-anchor="start" fill="#262626" font-family='"Liberation Serif", serif' font-weight="normal" textLength="33.39" lengthAdjust="spacingAndGlyphs" >Method</text>
<text x="223.3" y="279.5" font-size="9.85" text-anchor="middle" fill="#262626" font-family='"Liberation Serif", serif' font-weight="normal" textLength="39.07" lengthAdjust="spacingAndGlyphs" >Precision</text>
<text x="296" y="279.5" font-size="9.85" text-anchor="middle" fill="#262626" font-family='"Liberation Serif", serif' font-weight="normal" textLength="80.64" lengthAdjust="spacingAndGlyphs" >Recall (Sensitivity,</text>
<text x="296" y="291.0" font-size="9.85" text-anchor="middle" fill="#262626" font-family='"Liberation Serif", serif' font-weight="normal" textLength="80.55" lengthAdjust="spacingAndGlyphs" >True positive rate)</text>
<text x="367.2" y="279.5" font-size="9.85" text-anchor="middle" fill="#262626" font-family='"Liberation Serif", serif' font-weight="normal" textLength="36.05" lengthAdjust="spacingAndGlyphs" >F1 score</text>
<text x="415.2" y="279.5" font-size="9.85" text-anchor="middle" fill="#262626" font-family='"Liberation Serif", serif' font-weight="normal" textLength="35.29" lengthAdjust="spacingAndGlyphs" >AUPRC</text>
<text x="484.3" y="279.5" font-size="9.85" text-anchor="middle" fill="#262626" font-family='"Liberation Serif", serif' font-weight="normal" textLength="78.25" lengthAdjust="spacingAndGlyphs" >False positive rate</text>
<text x="484.3" y="291.0" font-size="9.85" text-anchor="middle" fill="#262626" font-family='"Liberation Serif", serif' font-weight="normal" textLength="59.93" lengthAdjust="spacingAndGlyphs" >(1-Specificity)</text>
<text x="590.1" y="279.5" font-size="9.85" text-anchor="middle" fill="#262626" font-family='"Liberation Serif", serif' font-weight="normal" textLength="108.37" lengthAdjust="spacingAndGlyphs" >Negative predictive value</text>
<text x="590.1" y="291.0" font-size="9.85" text-anchor="middle" fill="#262626" font-family='"Liberation Serif", serif' font-weight="normal" textLength="29.15" lengthAdjust="spacingAndGlyphs" >(NPV)</text>
<text x="680.6" y="279.5" font-size="9.85" text-anchor="middle" fill="#262626" font-family='"Liberation Serif", serif' font-weight="normal" textLength="46.64" lengthAdjust="spacingAndGlyphs" >AUC-ROC</text>
<text x="70" y="320.9" font-size="9.85" fill="#262626" font-family='"Liberation Serif", serif' textLength="51" lengthAdjust="spacingAndGlyphs">N<tspan font-size="7.88">EUR</tspan>ABM</text>
<text x="223.4" y="309.0" font-size="9.85" text-anchor="middle" fill="#262626" font-family='"Liberation Serif", serif' font-weight="normal" textLength="17.51" lengthAdjust="spacingAndGlyphs" >0.25</text>
<text x="296" y="309.0" font-size="9.85" text-anchor="middle" fill="#262626" font-family='"Liberation Serif", serif' font-weight="normal" textLength="17.51" lengthAdjust="spacingAndGlyphs" >0.74</text>
<text x="367.2" y="309.0" font-size="9.85" text-anchor="middle" fill="#262626" font-family='"Liberation Serif", serif' font-weight="normal" textLength="17.51" lengthAdjust="spacingAndGlyphs" >0.37</text>
<text x="484.1" y="309.0" font-size="9.85" text-anchor="middle" fill="#262626" font-family='"Liberation Serif", serif' font-weight="normal" textLength="17.51" lengthAdjust="spacingAndGlyphs" >0.18</text>
<text x="591.1" y="309.0" font-size="9.85" text-anchor="middle" fill="#262626" font-family='"Liberation Serif", serif' font-weight="normal" textLength="17.51" lengthAdjust="spacingAndGlyphs" >0.98</text>
<text x="223.4" y="320.9" font-size="9.85" text-anchor="middle" fill="#262626" font-family='"Liberation Serif", serif' font-weight="normal" textLength="17.51" lengthAdjust="spacingAndGlyphs" >0.50</text>
<text x="296" y="320.9" font-size="9.85" text-anchor="middle" fill="#262626" font-family='"Liberation Serif", serif' font-weight="normal" textLength="17.51" lengthAdjust="spacingAndGlyphs" >0.66</text>
<text x="367.2" y="320.9" font-size="9.85" text-anchor="middle" fill="#262626" font-family='"Liberation Serif", serif' font-weight="normal" textLength="17.51" lengthAdjust="spacingAndGlyphs" >0.57</text>
<text x="484.1" y="320.9" font-size="9.85" text-anchor="middle" fill="#262626" font-family='"Liberation Serif", serif' font-weight="normal" textLength="17.51" lengthAdjust="spacingAndGlyphs" >0.05</text>
<text x="591.1" y="320.9" font-size="9.85" text-anchor="middle" fill="#262626" font-family='"Liberation Serif", serif' font-weight="normal" textLength="17.51" lengthAdjust="spacingAndGlyphs" >0.97</text>
<text x="223.4" y="332.8" font-size="9.85" text-anchor="middle" fill="#262626" font-family='"Liberation Serif", serif' font-weight="normal" textLength="17.51" lengthAdjust="spacingAndGlyphs" >0.75</text>
<text x="296" y="332.8" font-size="9.85" text-anchor="middle" fill="#262626" font-family='"Liberation Serif", serif' font-weight="normal" textLength="17.51" lengthAdjust="spacingAndGlyphs" >0.47</text>
<text x="367.2" y="332.8" font-size="9.85" text-anchor="middle" fill="#262626" font-family='"Liberation Serif", serif' font-weight="normal" textLength="17.51" lengthAdjust="spacingAndGlyphs" >0.58</text>
<text x="484.1" y="332.8" font-size="9.85" text-anchor="middle" fill="#262626" font-family='"Liberation Serif", serif' font-weight="normal" textLength="17.51" lengthAdjust="spacingAndGlyphs" >0.01</text>
<text x="591.1" y="332.8" font-size="9.85" text-anchor="middle" fill="#262626" font-family='"Liberation Serif", serif' font-weight="normal" textLength="17.51" lengthAdjust="spacingAndGlyphs" >0.96</text>
<text x="415" y="320.9" font-size="9.85" text-anchor="middle" fill="#262626" font-family='"Liberation Serif", serif' font-weight="bold" textLength="20.13" lengthAdjust="spacingAndGlyphs" >0.60</text>
<text x="681" y="320.9" font-size="9.85" text-anchor="middle" fill="#262626" font-family='"Liberation Serif", serif' font-weight="bold" textLength="20.13" lengthAdjust="spacingAndGlyphs" >0.86</text>
<line x1="64" y1="297.5" x2="711" y2="297.5" stroke="#808080" stroke-width="0.75"/>
<text x="70" y="361.1" font-size="9.85" text-anchor="start" fill="#262626" font-family='"Liberation Serif", serif' font-weight="normal" textLength="41.18" lengthAdjust="spacingAndGlyphs" >SIS-ABM</text>
<text x="223.4" y="349.2" font-size="9.85" text-anchor="middle" fill="#262626" font-family='"Liberation Serif", serif' font-weight="normal" textLength="17.51" lengthAdjust="spacingAndGlyphs" >0.25</text>
<text x="296" y="349.2" font-size="9.85" text-anchor="middle" fill="#262626" font-family='"Liberation Serif", serif' font-weight="normal" textLength="17.51" lengthAdjust="spacingAndGlyphs" >0.01</text>
<text x="367.2" y="349.2" font-size="9.85" text-anchor="middle" fill="#262626" font-family='"Liberation Serif", serif' font-weight="normal" textLength="17.51" lengthAdjust="spacingAndGlyphs" >0.02</text>
<text x="484.1" y="349.2" font-size="9.85" text-anchor="middle" fill="#262626" font-family='"Liberation Serif", serif' font-weight="normal" textLength="17.51" lengthAdjust="spacingAndGlyphs" >0.01</text>
<text x="591.1" y="349.2" font-size="9.85" text-anchor="middle" fill="#262626" font-family='"Liberation Serif", serif' font-weight="normal" textLength="17.51" lengthAdjust="spacingAndGlyphs" >0.93</text>
<text x="223.4" y="361.1" font-size="9.85" text-anchor="middle" fill="#262626" font-family='"Liberation Serif", serif' font-weight="normal" textLength="17.51" lengthAdjust="spacingAndGlyphs" >0.25</text>
<text x="296" y="361.1" font-size="9.85" text-anchor="middle" fill="#262626" font-family='"Liberation Serif", serif' font-weight="normal" textLength="17.51" lengthAdjust="spacingAndGlyphs" >0.01</text>
<text x="367.2" y="361.1" font-size="9.85" text-anchor="middle" fill="#262626" font-family='"Liberation Serif", serif' font-weight="normal" textLength="17.51" lengthAdjust="spacingAndGlyphs" >0.01</text>
<text x="484.1" y="361.1" font-size="9.85" text-anchor="middle" fill="#262626" font-family='"Liberation Serif", serif' font-weight="normal" textLength="17.51" lengthAdjust="spacingAndGlyphs" >0.01</text>
<text x="591.1" y="361.1" font-size="9.85" text-anchor="middle" fill="#262626" font-family='"Liberation Serif", serif' font-weight="normal" textLength="17.51" lengthAdjust="spacingAndGlyphs" >0.93</text>
<text x="223.4" y="373.0" font-size="9.85" text-anchor="middle" fill="#262626" font-family='"Liberation Serif", serif' font-weight="normal" textLength="17.51" lengthAdjust="spacingAndGlyphs" >0.75</text>
<text x="296" y="373.0" font-size="9.85" text-anchor="middle" fill="#262626" font-family='"Liberation Serif", serif' font-weight="normal" textLength="17.51" lengthAdjust="spacingAndGlyphs" >0.01</text>
<text x="367.2" y="373.0" font-size="9.85" text-anchor="middle" fill="#262626" font-family='"Liberation Serif", serif' font-weight="normal" textLength="17.51" lengthAdjust="spacingAndGlyphs" >0.01</text>
<text x="484.1" y="373.0" font-size="9.85" text-anchor="middle" fill="#262626" font-family='"Liberation Serif", serif' font-weight="normal" textLength="17.51" lengthAdjust="spacingAndGlyphs" >0.01</text>
<text x="591.1" y="373.0" font-size="9.85" text-anchor="middle" fill="#262626" font-family='"Liberation Serif", serif' font-weight="normal" textLength="17.51" lengthAdjust="spacingAndGlyphs" >0.93</text>
<text x="415" y="361.1" font-size="9.85" text-anchor="middle" fill="#262626" font-family='"Liberation Serif", serif' font-weight="normal" textLength="17.51" lengthAdjust="spacingAndGlyphs" >0.07</text>
<text x="681" y="361.1" font-size="9.85" text-anchor="middle" fill="#262626" font-family='"Liberation Serif", serif' font-weight="normal" textLength="17.51" lengthAdjust="spacingAndGlyphs" >0.49</text>
<line x1="64" y1="337.7" x2="711" y2="337.7" stroke="#808080" stroke-width="0.75"/>
<text x="70" y="401.7" font-size="9.85" text-anchor="start" fill="#262626" font-family='"Liberation Serif", serif' font-weight="normal" textLength="120.38" lengthAdjust="spacingAndGlyphs" >Feedforward neural network</text>
<text x="223.4" y="389.8" font-size="9.85" text-anchor="middle" fill="#262626" font-family='"Liberation Serif", serif' font-weight="normal" textLength="17.51" lengthAdjust="spacingAndGlyphs" >0.25</text>
<text x="296" y="389.8" font-size="9.85" text-anchor="middle" fill="#262626" font-family='"Liberation Serif", serif' font-weight="normal" textLength="17.51" lengthAdjust="spacingAndGlyphs" >0.40</text>
<text x="367.2" y="389.8" font-size="9.85" text-anchor="middle" fill="#262626" font-family='"Liberation Serif", serif' font-weight="normal" textLength="17.51" lengthAdjust="spacingAndGlyphs" >0.31</text>
<text x="484.1" y="389.8" font-size="9.85" text-anchor="middle" fill="#262626" font-family='"Liberation Serif", serif' font-weight="normal" textLength="17.51" lengthAdjust="spacingAndGlyphs" >0.10</text>
<text x="591.1" y="389.8" font-size="9.85" text-anchor="middle" fill="#262626" font-family='"Liberation Serif", serif' font-weight="normal" textLength="17.51" lengthAdjust="spacingAndGlyphs" >0.95</text>
<text x="223.4" y="401.7" font-size="9.85" text-anchor="middle" fill="#262626" font-family='"Liberation Serif", serif' font-weight="normal" textLength="17.51" lengthAdjust="spacingAndGlyphs" >0.50</text>
<text x="296" y="401.7" font-size="9.85" text-anchor="middle" fill="#262626" font-family='"Liberation Serif", serif' font-weight="normal" textLength="17.51" lengthAdjust="spacingAndGlyphs" >0.24</text>
<text x="367.2" y="401.7" font-size="9.85" text-anchor="middle" fill="#262626" font-family='"Liberation Serif", serif' font-weight="normal" textLength="17.51" lengthAdjust="spacingAndGlyphs" >0.33</text>
<text x="484.1" y="401.7" font-size="9.85" text-anchor="middle" fill="#262626" font-family='"Liberation Serif", serif' font-weight="normal" textLength="17.51" lengthAdjust="spacingAndGlyphs" >0.02</text>
<text x="591.1" y="401.7" font-size="9.85" text-anchor="middle" fill="#262626" font-family='"Liberation Serif", serif' font-weight="normal" textLength="17.51" lengthAdjust="spacingAndGlyphs" >0.94</text>
<text x="223.4" y="413.6" font-size="9.85" text-anchor="middle" fill="#262626" font-family='"Liberation Serif", serif' font-weight="normal" textLength="17.51" lengthAdjust="spacingAndGlyphs" >0.75</text>
<text x="296" y="413.6" font-size="9.85" text-anchor="middle" fill="#262626" font-family='"Liberation Serif", serif' font-weight="normal" textLength="17.51" lengthAdjust="spacingAndGlyphs" >0.17</text>
<text x="367.2" y="413.6" font-size="9.85" text-anchor="middle" fill="#262626" font-family='"Liberation Serif", serif' font-weight="normal" textLength="17.51" lengthAdjust="spacingAndGlyphs" >0.28</text>
<text x="484.1" y="413.6" font-size="9.85" text-anchor="middle" fill="#262626" font-family='"Liberation Serif", serif' font-weight="normal" textLength="17.51" lengthAdjust="spacingAndGlyphs" >0.01</text>
<text x="591.1" y="413.6" font-size="9.85" text-anchor="middle" fill="#262626" font-family='"Liberation Serif", serif' font-weight="normal" textLength="17.51" lengthAdjust="spacingAndGlyphs" >0.94</text>
<text x="415" y="401.7" font-size="9.85" text-anchor="middle" fill="#262626" font-family='"Liberation Serif", serif' font-weight="normal" textLength="17.51" lengthAdjust="spacingAndGlyphs" >0.36</text>
<text x="681" y="401.7" font-size="9.85" text-anchor="middle" fill="#262626" font-family='"Liberation Serif", serif' font-weight="normal" textLength="17.51" lengthAdjust="spacingAndGlyphs" >0.77</text>
<line x1="64" y1="378.3" x2="711" y2="378.3" stroke="#808080" stroke-width="0.75"/>
<text x="70" y="442.8" font-size="9.85" text-anchor="start" fill="#262626" font-family='"Liberation Serif", serif' font-weight="normal" textLength="55.75" lengthAdjust="spacingAndGlyphs" >Decision tree</text>
<text x="223.4" y="430.9" font-size="9.85" text-anchor="middle" fill="#262626" font-family='"Liberation Serif", serif' font-weight="normal" textLength="17.51" lengthAdjust="spacingAndGlyphs" >0.25</text>
<text x="296" y="430.9" font-size="9.85" text-anchor="middle" fill="#262626" font-family='"Liberation Serif", serif' font-weight="normal" textLength="17.51" lengthAdjust="spacingAndGlyphs" >0.32</text>
<text x="367.2" y="430.9" font-size="9.85" text-anchor="middle" fill="#262626" font-family='"Liberation Serif", serif' font-weight="normal" textLength="17.51" lengthAdjust="spacingAndGlyphs" >0.28</text>
<text x="484.1" y="430.9" font-size="9.85" text-anchor="middle" fill="#262626" font-family='"Liberation Serif", serif' font-weight="normal" textLength="17.51" lengthAdjust="spacingAndGlyphs" >0.08</text>
<text x="591.1" y="430.9" font-size="9.85" text-anchor="middle" fill="#262626" font-family='"Liberation Serif", serif' font-weight="normal" textLength="17.51" lengthAdjust="spacingAndGlyphs" >0.94</text>
<text x="223.4" y="442.8" font-size="9.85" text-anchor="middle" fill="#262626" font-family='"Liberation Serif", serif' font-weight="normal" textLength="17.51" lengthAdjust="spacingAndGlyphs" >0.50</text>
<text x="296" y="442.8" font-size="9.85" text-anchor="middle" fill="#262626" font-family='"Liberation Serif", serif' font-weight="normal" textLength="17.51" lengthAdjust="spacingAndGlyphs" >0.23</text>
<text x="367.2" y="442.8" font-size="9.85" text-anchor="middle" fill="#262626" font-family='"Liberation Serif", serif' font-weight="normal" textLength="17.51" lengthAdjust="spacingAndGlyphs" >0.31</text>
<text x="484.1" y="442.8" font-size="9.85" text-anchor="middle" fill="#262626" font-family='"Liberation Serif", serif' font-weight="normal" textLength="17.51" lengthAdjust="spacingAndGlyphs" >0.02</text>
<text x="591.1" y="442.8" font-size="9.85" text-anchor="middle" fill="#262626" font-family='"Liberation Serif", serif' font-weight="normal" textLength="17.51" lengthAdjust="spacingAndGlyphs" >0.94</text>
<text x="223.4" y="454.7" font-size="9.85" text-anchor="middle" fill="#262626" font-family='"Liberation Serif", serif' font-weight="normal" textLength="17.51" lengthAdjust="spacingAndGlyphs" >0.75</text>
<text x="296" y="454.7" font-size="9.85" text-anchor="middle" fill="#262626" font-family='"Liberation Serif", serif' font-weight="normal" textLength="17.51" lengthAdjust="spacingAndGlyphs" >0.20</text>
<text x="367.2" y="454.7" font-size="9.85" text-anchor="middle" fill="#262626" font-family='"Liberation Serif", serif' font-weight="normal" textLength="17.51" lengthAdjust="spacingAndGlyphs" >0.32</text>
<text x="484.1" y="454.7" font-size="9.85" text-anchor="middle" fill="#262626" font-family='"Liberation Serif", serif' font-weight="normal" textLength="17.51" lengthAdjust="spacingAndGlyphs" >0.01</text>
<text x="591.1" y="454.7" font-size="9.85" text-anchor="middle" fill="#262626" font-family='"Liberation Serif", serif' font-weight="normal" textLength="17.51" lengthAdjust="spacingAndGlyphs" >0.94</text>
<text x="415" y="442.8" font-size="9.85" text-anchor="middle" fill="#262626" font-family='"Liberation Serif", serif' font-weight="normal" textLength="17.51" lengthAdjust="spacingAndGlyphs" >0.32</text>
<text x="681" y="442.8" font-size="9.85" text-anchor="middle" fill="#262626" font-family='"Liberation Serif", serif' font-weight="normal" textLength="17.51" lengthAdjust="spacingAndGlyphs" >0.77</text>
<line x1="64" y1="419.4" x2="711" y2="419.4" stroke="#808080" stroke-width="0.75"/>
<text x="70" y="483.9" font-size="9.85" text-anchor="start" fill="#262626" font-family='"Liberation Serif", serif' font-weight="normal" textLength="50.93" lengthAdjust="spacingAndGlyphs" >Naive bayes</text>
<text x="223.4" y="472.0" font-size="9.85" text-anchor="middle" fill="#262626" font-family='"Liberation Serif", serif' font-weight="normal" textLength="17.51" lengthAdjust="spacingAndGlyphs" >0.25</text>
<text x="296" y="472.0" font-size="9.85" text-anchor="middle" fill="#262626" font-family='"Liberation Serif", serif' font-weight="normal" textLength="17.51" lengthAdjust="spacingAndGlyphs" >0.29</text>
<text x="367.2" y="472.0" font-size="9.85" text-anchor="middle" fill="#262626" font-family='"Liberation Serif", serif' font-weight="normal" textLength="17.51" lengthAdjust="spacingAndGlyphs" >0.27</text>
<text x="484.1" y="472.0" font-size="9.85" text-anchor="middle" fill="#262626" font-family='"Liberation Serif", serif' font-weight="normal" textLength="17.51" lengthAdjust="spacingAndGlyphs" >0.07</text>
<text x="591.1" y="472.0" font-size="9.85" text-anchor="middle" fill="#262626" font-family='"Liberation Serif", serif' font-weight="normal" textLength="17.51" lengthAdjust="spacingAndGlyphs" >0.94</text>
<text x="223.4" y="483.9" font-size="9.85" text-anchor="middle" fill="#262626" font-family='"Liberation Serif", serif' font-weight="normal" textLength="17.51" lengthAdjust="spacingAndGlyphs" >0.50</text>
<text x="296" y="483.9" font-size="9.85" text-anchor="middle" fill="#262626" font-family='"Liberation Serif", serif' font-weight="normal" textLength="17.51" lengthAdjust="spacingAndGlyphs" >0.09</text>
<text x="367.2" y="483.9" font-size="9.85" text-anchor="middle" fill="#262626" font-family='"Liberation Serif", serif' font-weight="normal" textLength="17.51" lengthAdjust="spacingAndGlyphs" >0.16</text>
<text x="484.1" y="483.9" font-size="9.85" text-anchor="middle" fill="#262626" font-family='"Liberation Serif", serif' font-weight="normal" textLength="17.51" lengthAdjust="spacingAndGlyphs" >0.02</text>
<text x="591.1" y="483.9" font-size="9.85" text-anchor="middle" fill="#262626" font-family='"Liberation Serif", serif' font-weight="normal" textLength="17.51" lengthAdjust="spacingAndGlyphs" >0.93</text>
<text x="223.4" y="495.8" font-size="9.85" text-anchor="middle" fill="#262626" font-family='"Liberation Serif", serif' font-weight="normal" textLength="17.51" lengthAdjust="spacingAndGlyphs" >0.75</text>
<text x="296" y="495.8" font-size="9.85" text-anchor="middle" fill="#262626" font-family='"Liberation Serif", serif' font-weight="normal" textLength="17.51" lengthAdjust="spacingAndGlyphs" >0.05</text>
<text x="367.2" y="495.8" font-size="9.85" text-anchor="middle" fill="#262626" font-family='"Liberation Serif", serif' font-weight="normal" textLength="17.51" lengthAdjust="spacingAndGlyphs" >0.09</text>
<text x="484.1" y="495.8" font-size="9.85" text-anchor="middle" fill="#262626" font-family='"Liberation Serif", serif' font-weight="normal" textLength="17.51" lengthAdjust="spacingAndGlyphs" >0.01</text>
<text x="591.1" y="495.8" font-size="9.85" text-anchor="middle" fill="#262626" font-family='"Liberation Serif", serif' font-weight="normal" textLength="17.51" lengthAdjust="spacingAndGlyphs" >0.93</text>
<text x="415" y="483.9" font-size="9.85" text-anchor="middle" fill="#262626" font-family='"Liberation Serif", serif' font-weight="normal" textLength="17.51" lengthAdjust="spacingAndGlyphs" >0.21</text>
<text x="681" y="483.9" font-size="9.85" text-anchor="middle" fill="#262626" font-family='"Liberation Serif", serif' font-weight="normal" textLength="17.51" lengthAdjust="spacingAndGlyphs" >0.79</text>
<line x1="64" y1="460.5" x2="711" y2="460.5" stroke="#808080" stroke-width="0.75"/>
<text x="70" y="525.0" font-size="9.85" text-anchor="start" fill="#262626" font-family='"Liberation Serif", serif' font-weight="normal" textLength="62.3" lengthAdjust="spacingAndGlyphs" >Length of stay</text>
<text x="223.4" y="513.1" font-size="9.85" text-anchor="middle" fill="#262626" font-family='"Liberation Serif", serif' font-weight="normal" textLength="17.51" lengthAdjust="spacingAndGlyphs" >0.25</text>
<text x="296" y="513.1" font-size="9.85" text-anchor="middle" fill="#262626" font-family='"Liberation Serif", serif' font-weight="normal" textLength="17.51" lengthAdjust="spacingAndGlyphs" >0.16</text>
<text x="367.2" y="513.1" font-size="9.85" text-anchor="middle" fill="#262626" font-family='"Liberation Serif", serif' font-weight="normal" textLength="17.51" lengthAdjust="spacingAndGlyphs" >0.20</text>
<text x="484.1" y="513.1" font-size="9.85" text-anchor="middle" fill="#262626" font-family='"Liberation Serif", serif' font-weight="normal" textLength="17.51" lengthAdjust="spacingAndGlyphs" >0.04</text>
<text x="591.1" y="513.1" font-size="9.85" text-anchor="middle" fill="#262626" font-family='"Liberation Serif", serif' font-weight="normal" textLength="17.51" lengthAdjust="spacingAndGlyphs" >0.94</text>
<text x="223.4" y="525.0" font-size="9.85" text-anchor="middle" fill="#262626" font-family='"Liberation Serif", serif' font-weight="normal" textLength="17.51" lengthAdjust="spacingAndGlyphs" >0.50</text>
<text x="296" y="525.0" font-size="9.85" text-anchor="middle" fill="#262626" font-family='"Liberation Serif", serif' font-weight="normal" textLength="17.51" lengthAdjust="spacingAndGlyphs" >0.11</text>
<text x="367.2" y="525.0" font-size="9.85" text-anchor="middle" fill="#262626" font-family='"Liberation Serif", serif' font-weight="normal" textLength="17.51" lengthAdjust="spacingAndGlyphs" >0.18</text>
<text x="484.1" y="525.0" font-size="9.85" text-anchor="middle" fill="#262626" font-family='"Liberation Serif", serif' font-weight="normal" textLength="17.51" lengthAdjust="spacingAndGlyphs" >0.03</text>
<text x="591.1" y="525.0" font-size="9.85" text-anchor="middle" fill="#262626" font-family='"Liberation Serif", serif' font-weight="normal" textLength="17.51" lengthAdjust="spacingAndGlyphs" >0.93</text>
<text x="223.4" y="536.9" font-size="9.85" text-anchor="middle" fill="#262626" font-family='"Liberation Serif", serif' font-weight="normal" textLength="17.51" lengthAdjust="spacingAndGlyphs" >0.75</text>
<text x="296" y="536.9" font-size="9.85" text-anchor="middle" fill="#262626" font-family='"Liberation Serif", serif' font-weight="normal" textLength="17.51" lengthAdjust="spacingAndGlyphs" >0.05</text>
<text x="367.2" y="536.9" font-size="9.85" text-anchor="middle" fill="#262626" font-family='"Liberation Serif", serif' font-weight="normal" textLength="17.51" lengthAdjust="spacingAndGlyphs" >0.10</text>
<text x="484.1" y="536.9" font-size="9.85" text-anchor="middle" fill="#262626" font-family='"Liberation Serif", serif' font-weight="normal" textLength="17.51" lengthAdjust="spacingAndGlyphs" >0.02</text>
<text x="591.1" y="536.9" font-size="9.85" text-anchor="middle" fill="#262626" font-family='"Liberation Serif", serif' font-weight="normal" textLength="17.51" lengthAdjust="spacingAndGlyphs" >0.93</text>
<text x="415" y="525.0" font-size="9.85" text-anchor="middle" fill="#262626" font-family='"Liberation Serif", serif' font-weight="normal" textLength="17.51" lengthAdjust="spacingAndGlyphs" >0.12</text>
<text x="681" y="525.0" font-size="9.85" text-anchor="middle" fill="#262626" font-family='"Liberation Serif", serif' font-weight="normal" textLength="17.51" lengthAdjust="spacingAndGlyphs" >0.63</text>
<line x1="64" y1="501.6" x2="711" y2="501.6" stroke="#808080" stroke-width="0.75"/>
<line x1="64" y1="542.4" x2="711" y2="542.4" stroke="#222" stroke-width="1.4"/></svg></body></html>
